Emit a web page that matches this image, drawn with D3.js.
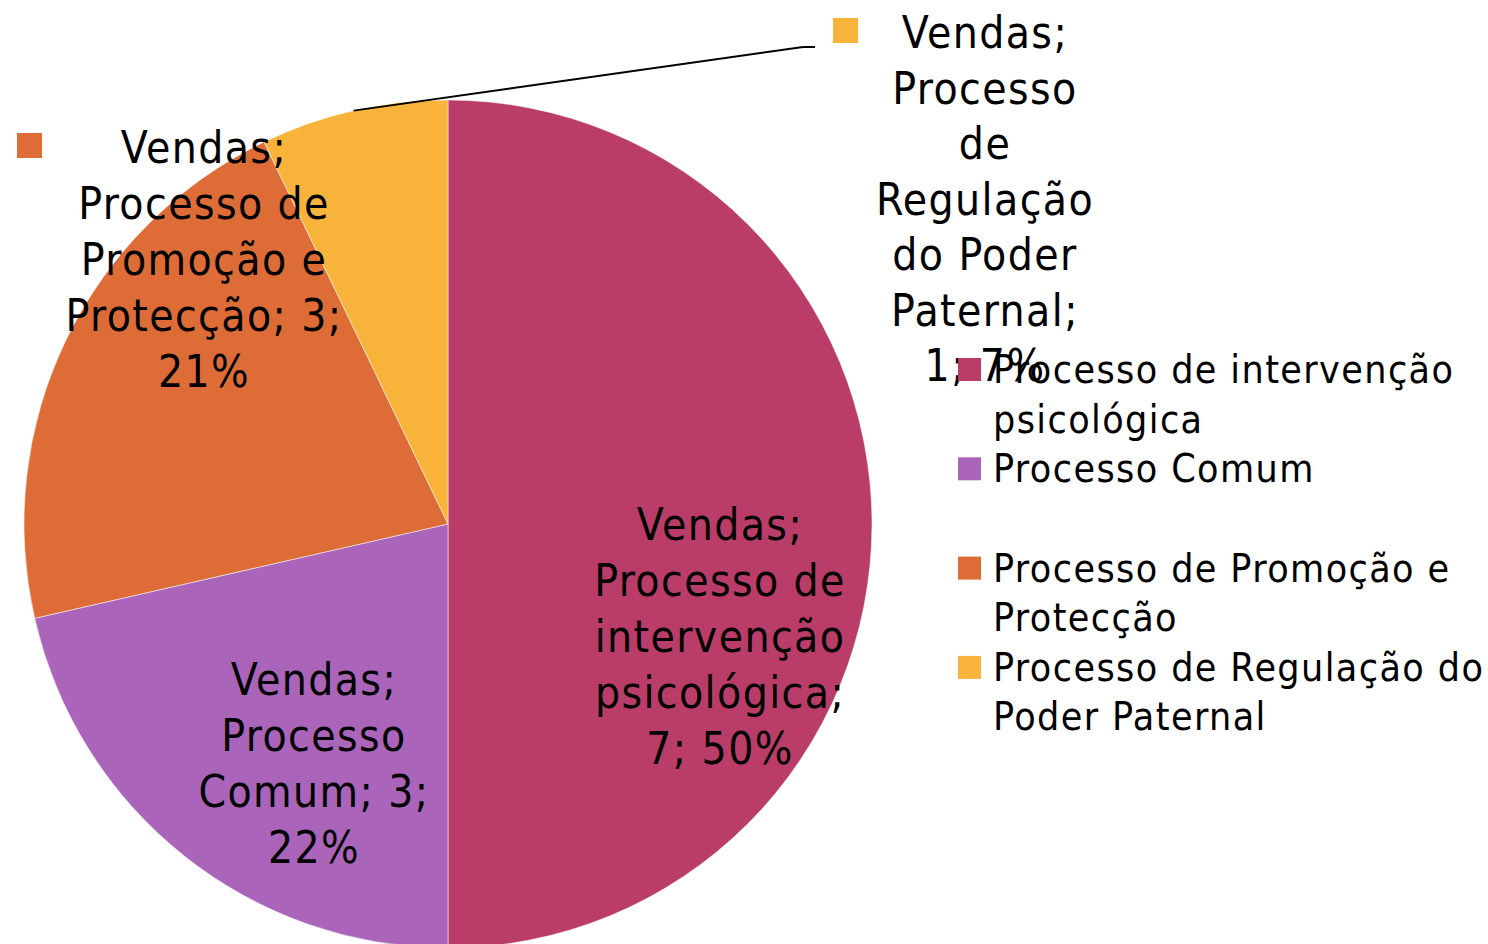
<!DOCTYPE html>
<html>
<head>
<meta charset="utf-8">
<script src="https://cdn.jsdelivr.net/npm/d3@7"></script>
<style>
  body { margin: 0; background: #fff; }
  svg text { font-family: "DejaVu Sans Condensed", "DejaVu Sans", sans-serif; font-stretch: condensed; fill: #000; letter-spacing: 1.4px; }
</style>
</head>
<body>
<div id="chart"></div>
<script>
// data
const categories = [
  "Processo de intervenção psicológica",
  "Processo Comum",
  "Processo de Promoção e Protecção",
  "Processo de Regulação do Poder Paternal"
];
const values = [7, 3, 3, 1];
const percentLabels = ["50%", "22%", "21%", "7%"];
const seriesName = "Vendas";

// how Excel wrapped the text
const labelLines = [
  ["Vendas;", "Processo de", "intervenção", "psicológica;", "7; 50%"],
  ["Vendas;", "Processo", "Comum; 3;", "22%"],
  ["Vendas;", "Processo de", "Promoção e", "Protecção; 3;", "21%"],
  ["Vendas;", "Processo", "de", "Regulação", "do Poder", "Paternal;", "1; 7%"]
];
const legendLines = [
  ["Processo de intervenção", "psicológica"],
  ["Processo Comum"],
  ["Processo de Promoção e", "Protecção"],
  ["Processo de Regulação do", "Poder Paternal"]
];
const colors = ["#B93D68", "#AA65BB", "#DE6C37", "#F8B43A"];

const width = 1488, height = 944;
const cx = 448, cy = 524, radius = 424;

const svg = d3.select("#chart").append("svg")
    .attr("width", width)
    .attr("height", height);

const pie = d3.pie().sort(null).value(d => d)(values);
const arc = d3.arc().innerRadius(0).outerRadius(radius);

const g = svg.append("g").attr("transform", "translate(" + cx + "," + cy + ")");

g.selectAll("path")
    .data(pie)
    .enter()
    .append("path")
    .attr("d", arc)
    .attr("fill", (d, i) => colors[i])
    .attr("stroke", "#fff")
    .attr("stroke-width", 0.5);

// leader line for the small slice (its label sits outside)
const edge = d3.arc().innerRadius(radius).outerRadius(radius).centroid(pie[3]);
svg.append("polyline")
    .attr("points", [[cx + edge[0], cy + edge[1]], [803, 47], [815, 47]].map(p => p.join(",")).join(" "))
    .attr("fill", "none")
    .attr("stroke", "#000")
    .attr("stroke-width", 2);

// data label layout: centre x, first baseline, line step
const labelPos = [
  { x: 720, y: 540, step: 56 },
  { x: 314, y: 695, step: 56 },
  { x: 204, y: 163, step: 56 },
  { x: 985, y: 48, step: 55.5 }
];
const labelFont = 44;

labelLines.forEach((lines, i) => {
  const t = svg.append("text")
      .attr("text-anchor", "middle")
      .style("font-size", labelFont + "px");
  lines.forEach((ln, j) => {
    t.append("tspan")
        .attr("x", labelPos[i].x)
        .attr("y", labelPos[i].y + j * labelPos[i].step)
        .text(ln);
  });
});

// legend keys shown inside the outer labels
const keyBoxes = [{ i: 2, x: 17, y: 133 }, { i: 3, x: 833, y: 18 }];
svg.selectAll("rect.key")
    .data(keyBoxes)
    .enter()
    .append("rect")
    .attr("class", "key")
    .attr("x", d => d.x)
    .attr("y", d => d.y)
    .attr("width", 25)
    .attr("height", 25)
    .attr("fill", d => colors[d.i]);

// legend
const legendFont = 39;
const legend = svg.append("g").attr("transform", "translate(958,358)");
const item = legend.selectAll("g")
    .data(categories)
    .enter()
    .append("g")
    .attr("transform", (d, i) => "translate(0," + (i * 99.3) + ")");

item.append("rect")
    .attr("width", 23)
    .attr("height", 23)
    .attr("fill", (d, i) => colors[i]);

item.append("text")
    .style("font-size", legendFont + "px")
    .each(function (d, i) {
      const t = d3.select(this);
      legendLines[i].forEach((ln, j) => {
        t.append("tspan").attr("x", 35).attr("y", 25 + j * 49.5).text(ln);
      });
    });
</script>
</body>
</html>
